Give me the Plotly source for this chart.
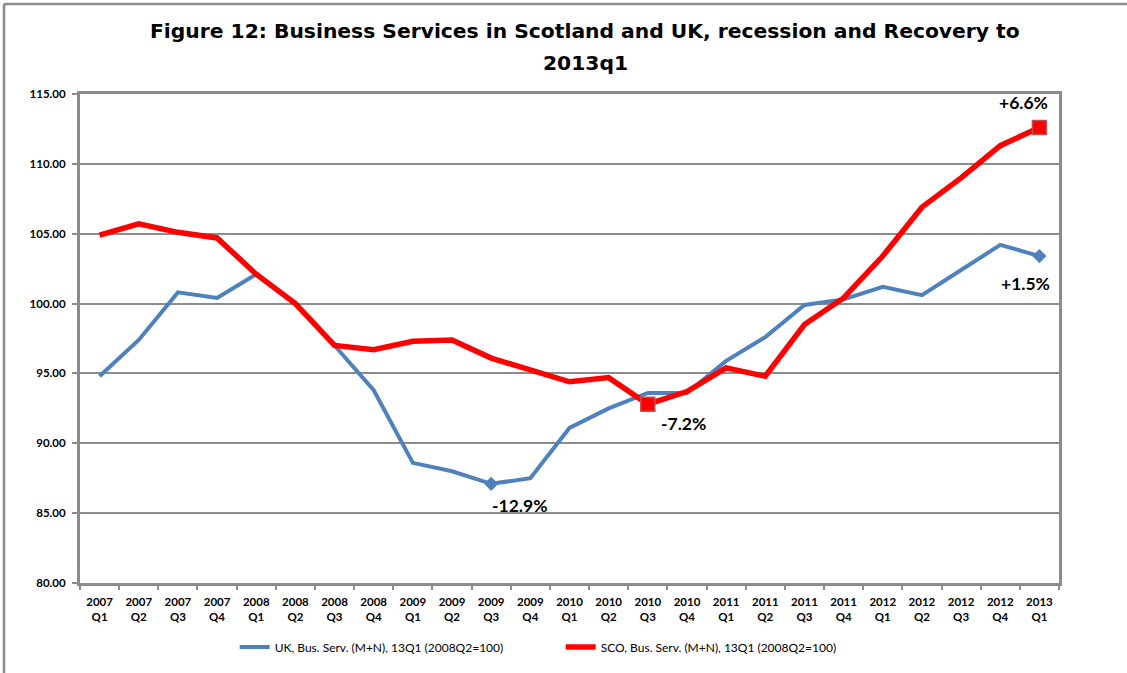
import plotly.graph_objects as go

# Quarter labels, 2007 Q1 to 2013 Q1
years = ["2007"] * 4 + ["2008"] * 4 + ["2009"] * 4 + ["2010"] * 4 + ["2011"] * 4 + ["2012"] * 4 + ["2013"]
quarters = ["Q1", "Q2", "Q3", "Q4"] * 6 + ["Q1"]
categories = [f"{y}<br>{q}" for y, q in zip(years, quarters)]

# Business services index, 2008Q2 = 100
uk_values = [94.8, 97.4, 100.8, 100.4, 102.1, 100.0, 97.0, 93.8,
             88.6, 88.0, 87.1, 87.5, 91.1, 92.5, 93.6, 93.6,
             95.9, 97.6, 99.9, 100.3, 101.2, 100.6, 102.4, 104.2, 103.4]
sco_values = [104.9, 105.7, 105.1, 104.7, 102.1, 100.0, 97.0, 96.7,
              97.3, 97.4, 96.1, 95.3, 94.4, 94.7, 92.8, 93.7,
              95.4, 94.8, 98.5, 100.4, 103.4, 106.9, 109.0, 111.3, 112.6]

uk_name = "UK, Bus. Serv. (M+N), 13Q1 (2008Q2=100)"
sco_name = "SCO, Bus. Serv. (M+N), 13Q1 (2008Q2=100)"

y_ticks = [80, 85, 90, 95, 100, 105, 110, 115]

# Highlighted points and their labels
uk_marks = [10, 24]
uk_mark_labels = ["-12.9%", "+1.5%"]
sco_marks = [14, 24]
sco_mark_labels = ["-7.2%", "+6.6%"]

title_lines = ["Figure 12: Business Services in Scotland and UK, recession and Recovery to", "2013q1"]

BLUE = "#4F81BD"
RED = "#FF0000"
GREY = "#8C8C8C"
LBL_FONT = "Lato"

fig = go.Figure()

fig.add_trace(go.Scatter(x=categories, y=uk_values, mode="lines", name=uk_name,
                         line=dict(color=BLUE, width=4)))
fig.add_trace(go.Scatter(x=categories, y=sco_values, mode="lines", name=sco_name,
                         line=dict(color=RED, width=5.5)))

fig.add_trace(go.Scatter(x=[categories[i] for i in uk_marks], y=[uk_values[i] for i in uk_marks],
                         mode="markers", showlegend=False, hoverinfo="skip",
                         marker=dict(symbol="diamond", size=11, color=BLUE)))
fig.add_trace(go.Scatter(x=[categories[i] for i in sco_marks], y=[sco_values[i] for i in sco_marks],
                         mode="markers", showlegend=False, hoverinfo="skip",
                         marker=dict(symbol="square", size=14, color=RED,
                                     line=dict(color="#C0504D", width=1.5))))

# Percentage labels next to the highlighted points (pixel offsets)
label_offsets = {
    ("uk", 10): (28, -22),
    ("uk", 24): (-14, -27),
    ("sco", 14): (36, -19),
    ("sco", 24): (-16, 25),
}
for i, txt in zip(uk_marks, uk_mark_labels):
    dx, dy = label_offsets[("uk", i)]
    fig.add_annotation(x=categories[i], y=uk_values[i], text=f"<b>{txt}</b>", showarrow=False,
                       xshift=dx, yshift=dy, font=dict(family=LBL_FONT, size=17.5, color="black"))
for i, txt in zip(sco_marks, sco_mark_labels):
    dx, dy = label_offsets[("sco", i)]
    fig.add_annotation(x=categories[i], y=sco_values[i], text=f"<b>{txt}</b>", showarrow=False,
                       xshift=dx, yshift=dy, font=dict(family=LBL_FONT, size=17.5, color="black"))

# Two-line chart title
for line_text, ypos in zip(title_lines, [1.1288, 1.0634]):
    fig.add_annotation(xref="paper", yref="paper", x=0.516, y=ypos, xanchor="center", yanchor="middle",
                       text=f"<b>{line_text}</b>", showarrow=False,
                       font=dict(family="DejaVu Sans", size=20.3, color="black"))

# Outer chart frame: left and top edges
fig.add_shape(type="line", xref="paper", yref="paper", x0=-0.0776, x1=-0.0776, y0=-0.2, y1=1.184,
              line=dict(color=GREY, width=2.5))
fig.add_shape(type="line", xref="paper", yref="paper", x0=-0.0776, x1=1.0695, y0=1.184, y1=1.184,
              line=dict(color=GREY, width=2.5))

fig.update_layout(
    width=1127, height=673,
    margin=dict(l=80, r=68, t=94, b=90),
    paper_bgcolor="white", plot_bgcolor="white",
    showlegend=True,
    legend=dict(orientation="h", x=0.158, xanchor="left", y=-0.131, yanchor="middle",
                font=dict(family=LBL_FONT, size=12, color="black"),
                entrywidth=281, entrywidthmode="pixels", bgcolor="rgba(0,0,0,0)"),
    xaxis=dict(type="category", range=[-0.5, 24.5], showgrid=False,
               showline=True, linecolor=GREY, linewidth=3, mirror=True,
               ticks="outside", tickson="boundaries", ticklen=4, tickcolor=GREY, tickwidth=2,
               ticklabelstandoff=6,
               tickvals=categories, ticktext=[f"<b>{c}</b>" for c in categories],
               tickfont=dict(family=LBL_FONT, size=11.5, color="black")),
    yaxis=dict(range=[80, 115], showgrid=True,
               gridcolor=GREY, gridwidth=2, zeroline=False,
               showline=True, linecolor=GREY, linewidth=3, mirror=True,
               ticks="outside", ticklen=5, tickcolor=GREY, tickwidth=2,
               ticklabelstandoff=4,
               tickvals=y_ticks, ticktext=[f"<b>{v:.2f}</b>" for v in y_ticks],
               tickfont=dict(family=LBL_FONT, size=11.5, color="black")),
)

# Keep the page itself from scrolling
page_js = ("document.documentElement.style.overflow='hidden';"
           "document.body.style.margin='0';document.body.style.overflow='hidden';")
fig.write_html("out.html", config={"displayModeBar": False}, post_script=page_js)
